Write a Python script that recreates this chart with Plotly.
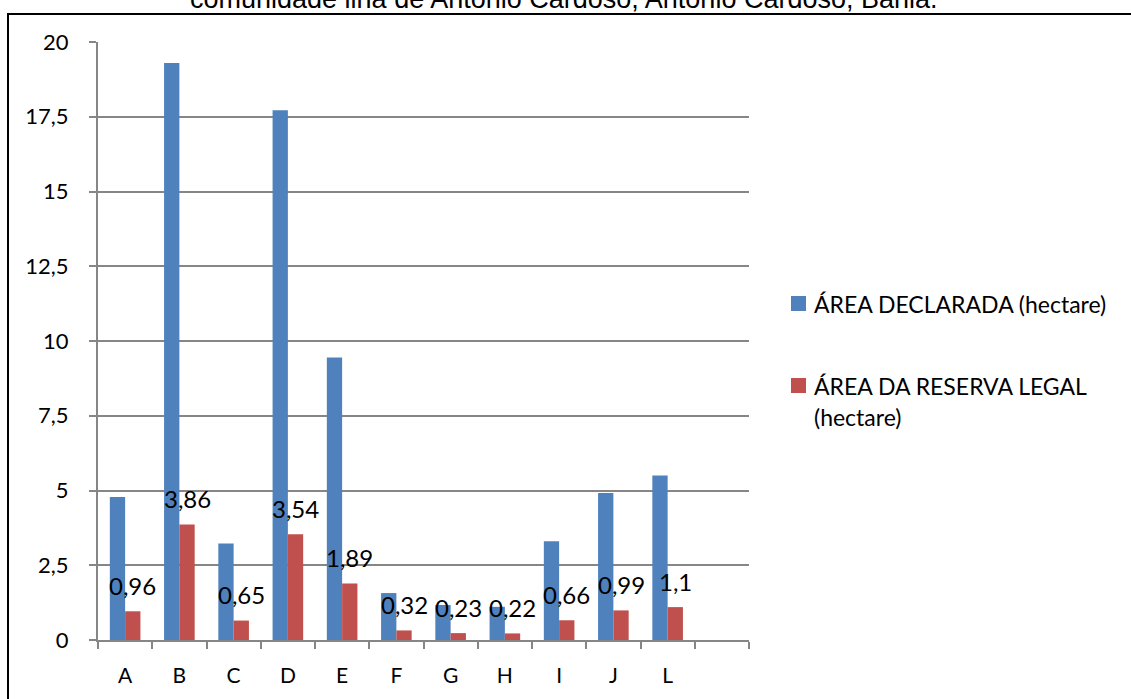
import plotly.graph_objects as go

# Property codes and measured areas (hectares)
categories = ["A", "B", "C", "D", "E", "F", "G", "H", "I", "J", "L"]
area_declarada = [4.78, 19.3, 3.23, 17.72, 9.45, 1.57, 1.17, 1.11, 3.30, 4.92, 5.50]
area_reserva = [0.96, 3.86, 0.65, 3.54, 1.89, 0.32, 0.23, 0.22, 0.66, 0.99, 1.1]
reserva_labels = ["0,96", "3,86", "0,65", "3,54", "1,89", "0,32", "0,23", "0,22", "0,66", "0,99", "1,1"]

y_tickvals = [0, 2.5, 5, 7.5, 10, 12.5, 15, 17.5, 20]
y_ticktext = ["0", "2,5", "5", "7,5", "10", "12,5", "15", "17,5", "20"]

name_declarada = "ÁREA DECLARADA (hectare)"
name_reserva_lines = ["ÁREA DA RESERVA LEGAL", "(hectare)"]
title_text = "comunidade ilha de Antonio Cardoso, Antonio Cardoso, Bahia."

BLUE = "#4F81BD"
RED = "#C0504D"
GRID = "#868686"
FONT = "Lato"

W, H = 1131, 699
ML, MR, MT, MB = 98, 382, 42, 59
PW, PH = W - ML - MR, H - MT - MB
BARGAP = 0.436

def px_x(px):
    return (px - ML) / PW

def px_y(py):
    return (H - MB - py) / PH

fig = go.Figure()
fig.add_trace(go.Bar(x=categories, y=area_declarada, name=name_declarada,
                     marker=dict(color=BLUE, line=dict(width=0))))
fig.add_trace(go.Bar(x=categories, y=area_reserva, name=" ".join(name_reserva_lines),
                     marker=dict(color=RED, line=dict(width=0))))

# value labels above the reserve bars
bar_w = (1 - BARGAP) / 2
annotations = []
for i, (v, t) in enumerate(zip(area_reserva, reserva_labels)):
    annotations.append(dict(x=i + bar_w / 2, y=v, xref="x", yref="y", text=t,
                            showarrow=False, xanchor="center", yanchor="middle",
                            yshift=26, font=dict(family=FONT, size=24, color="black")))

# title line (top of page)
annotations.append(dict(x=px_x(564), y=px_y(16), xref="paper", yref="paper",
                        text=title_text, showarrow=False, xanchor="center",
                        yanchor="bottom",
                        font=dict(family="Liberation Sans, Arial", size=27, color="black")))

# legend
shapes = []
legend_items = [(BLUE, 303.5, [name_declarada]), (RED, 385.5, name_reserva_lines)]
for color, cy, lines in legend_items:
    shapes.append(dict(type="rect", xref="paper", yref="paper",
                       x0=px_x(791), x1=px_x(806), y0=px_y(cy - 7.5), y1=px_y(cy + 7.5),
                       fillcolor=color, line=dict(width=0)))
    for k, ln in enumerate(lines):
        annotations.append(dict(x=px_x(812), y=px_y(cy + k * 31.7), xref="paper", yref="paper",
                                text=ln, showarrow=False, xanchor="left", yanchor="middle",
                                font=dict(family=FONT, size=23, color="black")))

# outer chart frame
shapes.append(dict(type="rect", xref="paper", yref="paper",
                   x0=px_x(8), x1=px_x(1150), y0=px_y(720), y1=px_y(14),
                   line=dict(color="black", width=2), fillcolor="rgba(0,0,0,0)", layer="below"))

fig.update_layout(
    width=W, height=H,
    margin=dict(l=ML, r=MR, t=MT, b=MB, pad=0),
    paper_bgcolor="white", plot_bgcolor="white",
    barmode="group", bargap=BARGAP, bargroupgap=0,
    showlegend=False,
    annotations=annotations, shapes=shapes,
    font=dict(family=FONT, color="black"),
    xaxis=dict(
        type="category", categoryorder="array", categoryarray=categories + [" "],
        range=[-0.5, len(categories) + 0.5],
        showline=True, linecolor=GRID, linewidth=2,
        ticks="outside", tickson="boundaries", ticklen=7, tickcolor=GRID, tickwidth=2,
        showgrid=False, tickfont=dict(family=FONT, size=21, color="black"),
        ticklabelstandoff=16,
    ),
    yaxis=dict(
        range=[0, 20], tickvals=y_tickvals, ticktext=y_ticktext,
        showline=True, linecolor=GRID, linewidth=2,
        ticks="outside", ticklen=7, tickcolor=GRID, tickwidth=2,
        showgrid=True, gridcolor=GRID, gridwidth=1.5, zeroline=False,
        tickfont=dict(family=FONT, size=22, color="black"),
        ticklabelstandoff=16,
    ),
)

fig.write_html("out.html")
